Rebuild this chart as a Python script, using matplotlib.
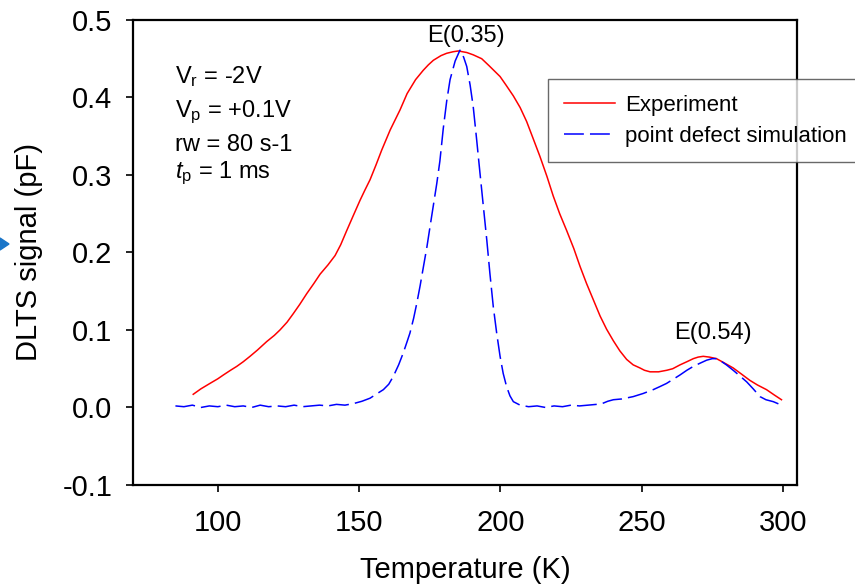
import matplotlib
matplotlib.use("Agg")
import matplotlib.pyplot as plt
from matplotlib.ticker import FormatStrFormatter
from matplotlib.patches import Polygon

plt.rcParams['font.family'] = 'Liberation Sans'
plt.rcParams['mathtext.fontset'] = 'custom'
plt.rcParams['mathtext.rm'] = 'Liberation Sans'
plt.rcParams['mathtext.it'] = 'Liberation Sans:italic'
plt.rcParams['axes.unicode_minus'] = False

# experiment (red)
exp_T = [91.3, 94, 97.2, 100, 102, 104.5, 106.7, 109, 111.4, 114, 117.3, 120, 122, 124.5,
         126.7, 129, 131.5, 134, 136.2, 139, 141.5, 143.5, 145.6, 148, 150.3, 152, 153.9,
         156, 158, 161, 164.5, 167, 170, 172.7, 174.5, 176.3, 179, 181, 183.3, 185.1, 188.1,
         190.4, 193.4, 196, 199.9, 202, 204.6, 207, 209.3, 211.5, 214, 216.5, 218.7, 221,
         223.5, 226, 228.2, 230.5, 232.9, 235.3, 237.6, 240, 242.3, 244.7, 247, 249.4, 251,
         253, 256, 258.9, 261, 263.6, 266, 268.3, 270, 271.8, 274, 276.5, 279, 282.4, 285,
         288.3, 291, 294.2, 297, 299.5]
exp_S = [0.017, 0.024, 0.031, 0.037, 0.042, 0.048, 0.053, 0.059, 0.066, 0.074, 0.085, 0.093,
         0.100, 0.110, 0.121, 0.133, 0.147, 0.160, 0.172, 0.184, 0.196, 0.210, 0.228, 0.248,
         0.267, 0.280, 0.294, 0.313, 0.332, 0.358, 0.384, 0.405, 0.423, 0.435, 0.442, 0.448,
         0.454, 0.457, 0.459, 0.460, 0.458, 0.455, 0.450, 0.441, 0.427, 0.416, 0.402, 0.387,
         0.369, 0.348, 0.324, 0.298, 0.273, 0.250, 0.228, 0.205, 0.182, 0.160, 0.139, 0.118,
         0.101, 0.086, 0.073, 0.062, 0.055, 0.051, 0.048, 0.046, 0.046, 0.048, 0.050, 0.055,
         0.059, 0.063, 0.065, 0.066, 0.065, 0.063, 0.058, 0.051, 0.044, 0.035, 0.029, 0.023,
         0.016, 0.010]

# point defect simulation (blue)
sim_T = [85, 88, 91, 94, 97, 100, 103, 106, 109, 112, 115, 118, 121, 124, 127, 130, 133,
         136, 139, 142, 145, 148, 151, 153.9, 156, 158.6, 160.5, 162.1, 164, 165.6, 167, 168,
         169.3, 170.4, 171.6, 172.7, 174, 175.1, 176.3, 177.5, 178.6, 179.8, 181, 182.2, 184,
         185.7, 187, 188.1, 189.3, 190.4, 191.6, 192.8, 194, 195.2, 196.3, 197.5, 198.7,
         199.9, 201, 202.2, 203.4, 204.6, 207, 210, 213, 216, 219, 222, 225, 228, 231, 234,
         236, 238, 240, 243, 247, 250.5, 254.1, 256.5, 258.8, 261, 263.6, 266, 268.3, 270.6,
         273, 275, 276.5, 278, 280, 282.4, 285, 287.2, 289.5, 291.9, 294, 296.6, 299.5]
sim_S = [0.002, 0.001, 0.003, 0.000, 0.002, 0.001, 0.003, 0.001, 0.002, 0.000, 0.003, 0.001,
         0.002, 0.001, 0.003, 0.001, 0.002, 0.003, 0.002, 0.004, 0.003, 0.005, 0.008, 0.012,
         0.017, 0.023, 0.030, 0.040, 0.055, 0.070, 0.085, 0.096, 0.115, 0.134, 0.157, 0.180,
         0.207, 0.233, 0.261, 0.289, 0.318, 0.360, 0.395, 0.423, 0.447, 0.461, 0.452, 0.440,
         0.416, 0.388, 0.346, 0.302, 0.259, 0.216, 0.173, 0.130, 0.096, 0.066, 0.044, 0.027,
         0.015, 0.0075, 0.003, 0.001, 0.002, 0.000, 0.002, 0.001, 0.003, 0.002, 0.003, 0.004,
         0.005, 0.008, 0.010, 0.011, 0.014, 0.018, 0.023, 0.027, 0.031, 0.036, 0.042, 0.048,
         0.053, 0.057, 0.061, 0.063, 0.063, 0.060, 0.055, 0.048, 0.040, 0.033, 0.024, 0.014,
         0.010, 0.0075, 0.003]

x_ticks = [100, 150, 200, 250, 300]
y_ticks = [-0.1, 0.0, 0.1, 0.2, 0.3, 0.4, 0.5]

fig = plt.figure(figsize=(8.55, 5.87), dpi=100)
ax = fig.add_axes([0.1556, 0.1738, 0.7766, 0.7922])

ax.plot(exp_T, exp_S, color='#ff0000', lw=1.1, label='Experiment')
ax.plot(sim_T, sim_S, color='#0000ff', lw=1.1, dashes=(13, 4),
        label='point defect simulation')

ax.set_xlim(70, 305)
ax.set_ylim(-0.1, 0.5)
ax.set_xticks(x_ticks)
ax.set_yticks(y_ticks)
ax.yaxis.set_major_formatter(FormatStrFormatter('%.1f'))
ax.tick_params(direction='out', length=5, width=1.2, labelsize=21, top=False, right=False)
ax.tick_params(axis='x', pad=12)
ax.tick_params(axis='y', pad=10)
for s in ax.spines.values():
    s.set_linewidth(1.6)

ax.set_xlabel('Temperature (K)', fontsize=21, labelpad=14)
ax.set_ylabel('DLTS signal (pF)', fontsize=21, labelpad=14)

# parameter notes
ax.text(84.9, 0.419, r'V$_\mathrm{r}$ = -2V', fontsize=17, va='baseline')
ax.text(84.9, 0.375, r'V$_\mathrm{p}$ = +0.1V', fontsize=17, va='baseline')
ax.text(84.9, 0.331, 'rw = 80 s-1', fontsize=17, va='baseline')
ax.text(84.9, 0.296, r'$\mathit{t}$$_\mathrm{p}$ = 1 ms', fontsize=17, va='baseline')

ax.text(187.8, 0.471, 'E(0.35)', fontsize=17, ha='center', va='baseline')
ax.text(275.1, 0.088, 'E(0.54)', fontsize=17, ha='center', va='baseline')

leg = fig.legend(loc='upper left', bbox_to_anchor=(548 / 855, 1 - 79 / 587),
                 fontsize=16, frameon=True, fancybox=False, handlelength=2.3,
                 handletextpad=0.45, borderpad=0.7, labelspacing=0.45, borderaxespad=0)
leg.get_frame().set_edgecolor('#444444')
leg.get_frame().set_linewidth(1.0)

# small blue pointer at the left edge
tri = Polygon([(0, 1 - 238 / 587), (9 / 855, 1 - 244 / 587), (0, 1 - 250 / 587)],
              closed=True, transform=fig.transFigure, color='#1a75c8')
fig.patches.append(tri)

fig.savefig('out.png', dpi=100)
